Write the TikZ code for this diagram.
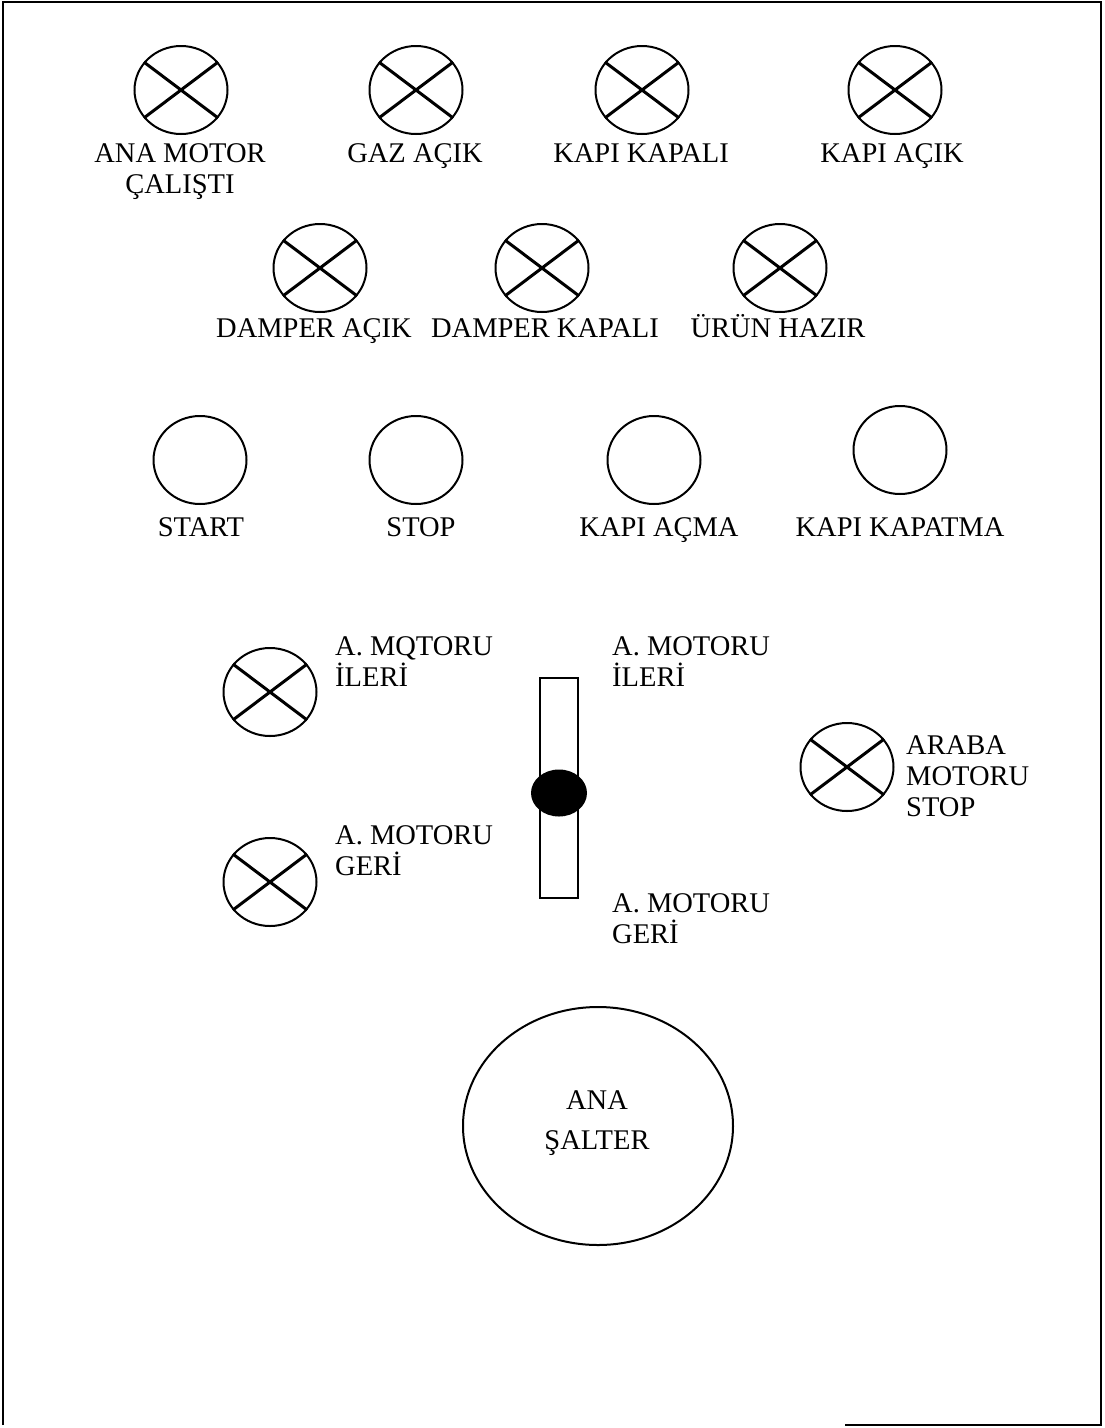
\documentclass[tikz,border=0pt]{standalone}
\usepackage{fontspec}
\setmainfont{Liberation Serif}
\usetikzlibrary{shapes.geometric}
\begin{document}
\begin{tikzpicture}[x=1pt,y=-1pt,
  lamp/.style={ellipse, draw, line width=2pt, minimum width=93pt, minimum height=88pt, inner sep=0pt},
  pushbtn/.style={ellipse, draw, line width=2pt, minimum width=93pt, minimum height=88pt, inner sep=0pt},
  lbl/.style={font=\fontsize{28.5}{31}\selectfont, inner sep=0pt, anchor=base, align=center},
  lbll/.style={lbl, anchor=base west, align=left},
  cross/.style={line width=3pt},
  frameline/.style={line width=2.5pt}]

% page and bounding box
\fill[white] (0,0) rectangle (1104,1428);
\useasboundingbox (0,0) rectangle (1104,1428);

% panel outline
\draw[frameline] (3,1425) -- (3,2) -- (1101,2) -- (1101,1425) -- (845,1425);

% signal lamp with a cross
\newcommand\lampx[2]{%
  \node[lamp] (#1) at (#2) {};
  \draw[cross] (#1.37) -- (#1.217) (#1.143) -- (#1.-37);}

% first row of lamps (the base of a multi-line label is its last line)
\lampx{l1}{181,90}
\lampx{l2}{416,90}
\lampx{l3}{642,90}
\lampx{l4}{895,90}
\node[lbl] (t1) at (180,193) {ANA MOTOR\\ÇALIŞTI};
\node[lbl] (t2) at (415,162) {GAZ AÇIK};
\node[lbl] (t3) at (641,162) {KAPI KAPALI};
\node[lbl] (t4) at (892,162) {KAPI AÇIK};

% second row of lamps
\lampx{l5}{320,268}
\lampx{l6}{542,268}
\lampx{l7}{780,268}
\node[lbl] (t5) at (314,337) {DAMPER AÇIK};
\node[lbl] (t6) at (545,337) {DAMPER KAPALI};
\node[lbl] (t7) at (778,337) {ÜRÜN HAZIR};

% push buttons
\node[pushbtn] (b1) at (200,460) {};
\node[pushbtn] (b2) at (416,460) {};
\node[pushbtn] (b3) at (654,460) {};
\node[pushbtn] (b4) at (900,450) {};
\node[lbl] (tb1) at (201,536) {START};
\node[lbl] (tb2) at (421,536) {STOP};
\node[lbl] (tb3) at (659,536) {KAPI AÇMA};
\node[lbl] (tb4) at (900,536) {KAPI KAPATMA};

% carriage motor lamps
\lampx{l8}{270,692}
\lampx{l9}{270,882}
\node[lbll] (t8) at (335,686) {A. MQTORU\\İLERİ};
\node[lbll] (t9) at (335,875) {A. MOTORU\\GERİ};

% forward / reverse selector
\node[draw, line width=1.5pt, minimum width=38pt, minimum height=220pt, inner sep=0pt] (slot) at (559,788) {};
\node[ellipse, fill=black, minimum width=56pt, minimum height=47pt, inner sep=0pt] (knob) at (559,793) {};
\node[lbll] (ts1) at (612,686) {A. MOTORU\\İLERİ};
\node[lbll] (ts2) at (612,943) {A. MOTORU\\GERİ};

% carriage motor stop lamp
\lampx{l10}{847,767}
\node[lbll] (t10) at (906,816) {ARABA\\MOTORU\\STOP};

% main switch
\node[ellipse, draw, line width=2pt, minimum width=270pt, minimum height=238pt, inner sep=0pt] (sw) at (598,1126) {};
\node[lbl, font=\fontsize{28.5}{40}\selectfont] (tsw) at (597,1149) {ANA\\ŞALTER};
\end{tikzpicture}
\end{document}
